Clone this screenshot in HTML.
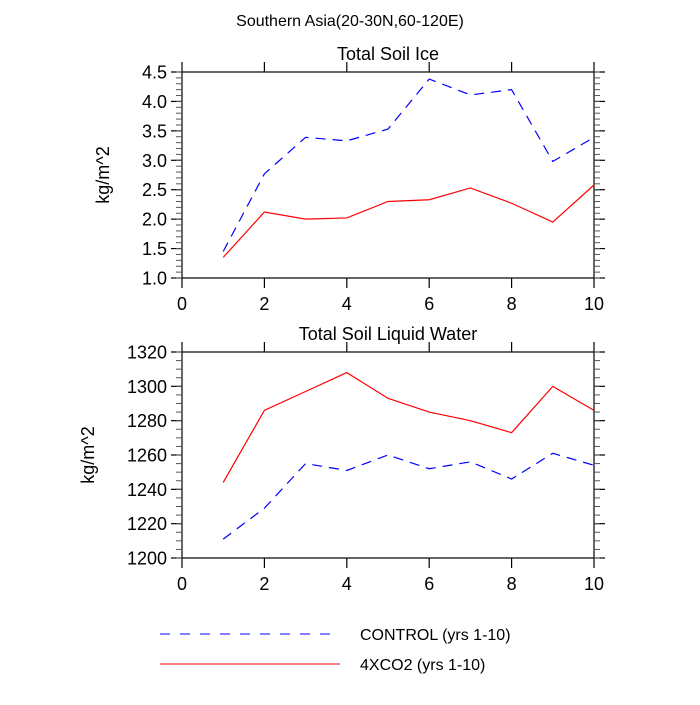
<!DOCTYPE html>
<html><head><meta charset="utf-8"><style>
body{margin:0;background:#fff;}
svg{font-family:"Liberation Sans",sans-serif;}
</style></head><body>
<svg id="c" width="700" height="700"></svg>
<script>
const years=[1,2,3,4,5,6,7,8,9,10];
const iceControl=[1.45,2.77,3.39,3.33,3.53,4.38,4.11,4.2,2.98,3.39];
const ice4x=[1.35,2.12,2.0,2.02,2.3,2.33,2.53,2.27,1.95,2.58];
const liqControl=[1211,1229,1255,1251,1260,1252,1256,1246,1261,1254];
const liq4x=[1244,1286,1297,1308,1293,1285,1280,1273,1300,1286];
const xTicks=[0,2,4,6,8,10];
const iceTicks=["1.0","1.5","2.0","2.5","3.0","3.5","4.0","4.5"];
const liqTicks=["1200","1220","1240","1260","1280","1300","1320"];

const svg=document.getElementById('c');
const NS='http://www.w3.org/2000/svg';
function mk(t,a,p){const e=document.createElementNS(NS,t);for(const k in a)e.setAttribute(k,a[k]);(p||svg).appendChild(e);return e;}
function txt(s,x,y,size,anchor){const e=mk('text',{x:x,y:y,'font-size':size,'text-anchor':anchor||'middle',fill:'#000'});e.textContent=s;return e;}

const X0=182,X1=594;
const t0=txt('Southern Asia(20-30N,60-120E)',350,26,16);



function panel(name,title,top,bot,ymin,ymax,ticks,minorStep,c1,c2,ytx){
  const g=mk('g',{});
  
  
  const xs=v=>X0+(X1-X0)*v/10;
  const ys=v=>bot-(bot-top)*(v-ymin)/(ymax-ymin);
  const ttl=txt(title,388,top-12,18);
  
  
  g.appendChild(ttl);
  mk('rect',{x:X0,y:top,width:X1-X0,height:bot-top,fill:'none',stroke:'#000','stroke-width':1.2},g);
  xTicks.forEach(v=>{
    const x=xs(v);
    mk('line',{x1:x,y1:bot,x2:x,y2:bot+10,stroke:'#000','stroke-width':1.2},g);
    mk('line',{x1:x,y1:top,x2:x,y2:top-10,stroke:'#000','stroke-width':1.2},g);
    const l=txt(String(v),x,bot+32,18);
    
    
    g.appendChild(l);
  });
  ticks.forEach(s=>{
    const y=ys(parseFloat(s));
    mk('line',{x1:X0-11,y1:y,x2:X0,y2:y,stroke:'#000','stroke-width':1.2},g);
    mk('line',{x1:X1,y1:y,x2:X1+11,y2:y,stroke:'#000','stroke-width':1.2},g);
    const l=txt(s,X0-15,y+6.5,18,'end');
    
    
    g.appendChild(l);
  });
  for(let v=ymin;v<=ymax+1e-9;v+=minorStep){
    const y=ys(v);
    mk('line',{x1:X0-6,y1:y,x2:X0,y2:y,stroke:'#555','stroke-width':1},g);
    mk('line',{x1:X1,y1:y,x2:X1+6,y2:y,stroke:'#555','stroke-width':1},g);
  }
  const yl=txt('kg/m^2',0,0,18);
  yl.setAttribute('transform','translate('+ytx+','+((top+bot)/2)+') rotate(-90)');
  
  
  g.appendChild(yl);
  const p1=mk('polyline',{points:years.map((v,i)=>xs(v)+','+ys(c1[i])).join(' '),fill:'none',stroke:'#0000ff','stroke-width':1.2,'stroke-dasharray':'10,7'},g);
  
  
  const p2=mk('polyline',{points:years.map((v,i)=>xs(v)+','+ys(c2[i])).join(' '),fill:'none',stroke:'#ff0000','stroke-width':1.2},g);
  
  
}
panel('soil-ice-panel','Total Soil Ice',72,278,1.0,4.5,iceTicks,0.1,iceControl,ice4x,109);
panel('soil-liquid-panel','Total Soil Liquid Water',352,558,1200,1320,liqTicks,5,liqControl,liq4x,94);

const lg=mk('g',{});


const l1=mk('line',{x1:160,y1:634,x2:340,y2:634,stroke:'#0000ff','stroke-width':1,'stroke-dasharray':'10,10'},lg);


const lt1=txt('CONTROL (yrs 1-10)',360,640,16,'start');


const l2=mk('line',{x1:160,y1:664,x2:340,y2:664,stroke:'#ff0000','stroke-width':1},lg);


const lt2=txt('4XCO2 (yrs 1-10)',360,670,16,'start');


</script>
</body></html>
